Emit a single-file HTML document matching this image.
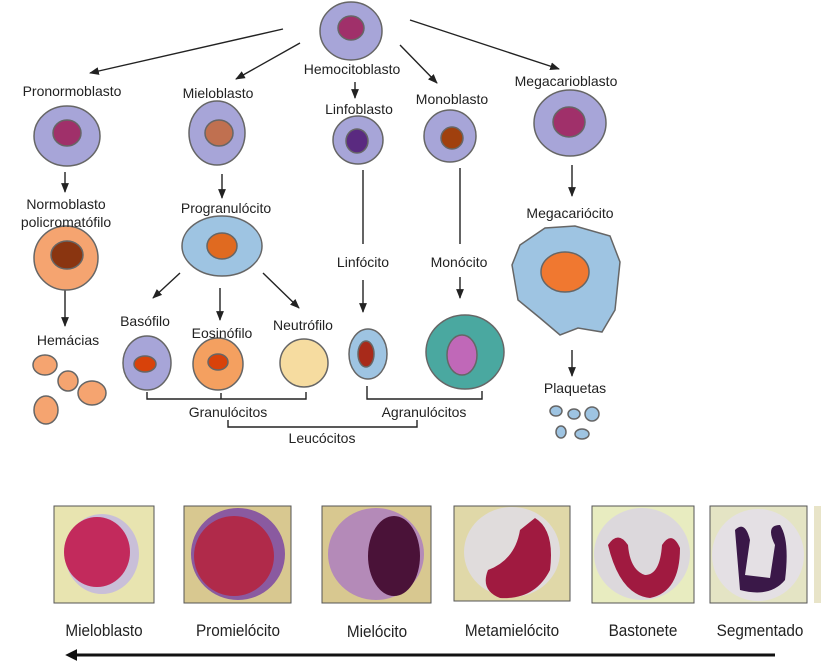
<!DOCTYPE html>
<html><head><meta charset="utf-8"><style>
html,body{margin:0;padding:0;background:#fff;}
svg{display:block;}
text{font-family:"Liberation Sans",sans-serif;font-size:14px;fill:#222;}
.b{font-family:"Liberation Sans",sans-serif;font-size:16px;fill:#222;transform-origin:0 0;}
</style></head><body>
<svg width="821" height="666" viewBox="0 0 821 666" xmlns="http://www.w3.org/2000/svg">
<defs>
<marker id="a" viewBox="0 0 10 10" refX="9" refY="5" markerWidth="7" markerHeight="7" orient="auto"><path d="M0,1 L10,5 L0,9 z" fill="#222"/></marker>
<marker id="big" viewBox="0 0 10 10" refX="1" refY="5" markerWidth="4" markerHeight="5" orient="auto-start-reverse"><path d="M0,0 L10,5 L0,10 z" fill="#111"/></marker>
</defs>
<g stroke="#222" stroke-width="1.4" fill="none">
<line x1="283" y1="29" x2="90" y2="73" marker-end="url(#a)"/>
<line x1="300" y1="43" x2="236" y2="79" marker-end="url(#a)"/>
<line x1="355" y1="82" x2="355" y2="98" marker-end="url(#a)"/>
<line x1="400" y1="45" x2="437" y2="83" marker-end="url(#a)"/>
<line x1="410" y1="20" x2="559" y2="69" marker-end="url(#a)"/>
<line x1="65" y1="172" x2="65" y2="192" marker-end="url(#a)"/>
<line x1="65" y1="290" x2="65" y2="326" marker-end="url(#a)"/>
<line x1="222" y1="174" x2="222" y2="198" marker-end="url(#a)"/>
<line x1="180" y1="273" x2="153" y2="298" marker-end="url(#a)"/>
<line x1="220" y1="288" x2="220" y2="320" marker-end="url(#a)"/>
<line x1="263" y1="273" x2="299" y2="308" marker-end="url(#a)"/>
<line x1="363" y1="170" x2="363" y2="244"/>
<line x1="363" y1="280" x2="363" y2="312" marker-end="url(#a)"/>
<line x1="460" y1="168" x2="460" y2="244"/>
<line x1="460" y1="277" x2="460" y2="298" marker-end="url(#a)"/>
<line x1="572" y1="165" x2="572" y2="196" marker-end="url(#a)"/>
<line x1="572" y1="350" x2="572" y2="376" marker-end="url(#a)"/>
<path d="M147,392 V399 H306 V392 M221,399 V393"/>
<path d="M367,386 V399 H482 V391"/>
<path d="M228,420 V427 H417 V420"/>
</g>
<!-- cells -->
<g stroke="#666" stroke-width="1.5">
<ellipse cx="351" cy="31" rx="31" ry="29" fill="#a7a5d8"/>
<ellipse cx="351" cy="28" rx="13" ry="12" fill="#a0306a"/>
<ellipse cx="67" cy="136" rx="33" ry="30" fill="#a7a5d8"/>
<ellipse cx="67" cy="133" rx="14" ry="13" fill="#a0306a"/>
<ellipse cx="217" cy="133" rx="28" ry="32" fill="#a7a5d8"/>
<ellipse cx="219" cy="133" rx="14" ry="13" fill="#c07050"/>
<ellipse cx="358" cy="140" rx="25" ry="24" fill="#a7a5d8"/>
<ellipse cx="357" cy="141" rx="11" ry="12" fill="#5a2a80"/>
<ellipse cx="450" cy="136" rx="26" ry="26" fill="#a7a5d8"/>
<ellipse cx="452" cy="138" rx="11" ry="11" fill="#a0400e"/>
<ellipse cx="570" cy="123" rx="36" ry="33" fill="#a7a5d8"/>
<ellipse cx="569" cy="122" rx="16" ry="15" fill="#a0306a"/>
<ellipse cx="66" cy="258" rx="32" ry="32" fill="#f5a470"/>
<ellipse cx="67" cy="255" rx="16" ry="14" fill="#8a3510"/>
<ellipse cx="222" cy="246" rx="40" ry="30" fill="#9ec4e2"/>
<ellipse cx="222" cy="246" rx="15" ry="13" fill="#e06a20"/>
<ellipse cx="147" cy="363" rx="24" ry="27" fill="#a7a5d8"/>
<ellipse cx="145" cy="364" rx="11" ry="8" fill="#d8420a"/>
<ellipse cx="218" cy="364" rx="25" ry="26" fill="#f4a060"/>
<ellipse cx="218" cy="362" rx="10" ry="8" fill="#d8420a"/>
<ellipse cx="304" cy="363" rx="24" ry="24" fill="#f6dca0"/>
<ellipse cx="368" cy="354" rx="19" ry="25" fill="#9ec4e2"/>
<ellipse cx="366" cy="354" rx="8" ry="13" fill="#a82a1a"/>
<ellipse cx="465" cy="352" rx="39" ry="37" fill="#4aa8a0"/>
<ellipse cx="462" cy="355" rx="15" ry="20" fill="#c068b8"/>
<path d="M520,245 L545,228 L575,226 L610,236 L620,262 L615,310 L602,332 L578,328 L560,335 L540,318 L518,300 L512,265 z" fill="#9ec4e2"/>
<ellipse cx="565" cy="272" rx="24" ry="20" fill="#f07830"/>
<ellipse cx="45" cy="365" rx="12" ry="10" fill="#f5a470"/>
<ellipse cx="68" cy="381" rx="10" ry="10" fill="#f5a470"/>
<ellipse cx="92" cy="393" rx="14" ry="12" fill="#f5a470"/>
<ellipse cx="46" cy="410" rx="12" ry="14" fill="#f5a470"/>
<ellipse cx="556" cy="411" rx="6" ry="5" fill="#9ec4e2"/>
<ellipse cx="574" cy="414" rx="6" ry="5" fill="#9ec4e2"/>
<ellipse cx="592" cy="414" rx="7" ry="7" fill="#9ec4e2"/>
<ellipse cx="561" cy="432" rx="5" ry="6" fill="#9ec4e2"/>
<ellipse cx="582" cy="434" rx="7" ry="5" fill="#9ec4e2"/>
</g>
<!-- labels -->
<g text-anchor="middle">
<text x="352" y="74">Hemocitoblasto</text>
<text x="72" y="96">Pronormoblasto</text>
<text x="218" y="98">Mieloblasto</text>
<text x="359" y="114">Linfoblasto</text>
<text x="452" y="104">Monoblasto</text>
<text x="566" y="86">Megacarioblasto</text>
<text x="66" y="209">Normoblasto</text>
<text x="66" y="227">policromatófilo</text>
<text x="68" y="345">Hemácias</text>
<text x="226" y="213">Progranulócito</text>
<text x="145" y="326">Basófilo</text>
<text x="222" y="338">Eosinófilo</text>
<text x="303" y="330">Neutrófilo</text>
<text x="363" y="267">Linfócito</text>
<text x="459" y="267">Monócito</text>
<text x="570" y="218">Megacariócito</text>
<text x="575" y="393">Plaquetas</text>
<text x="228" y="417">Granulócitos</text>
<text x="424" y="417">Agranulócitos</text>
<text x="322" y="443">Leucócitos</text>
</g>
<!-- photos -->
<g stroke="#555" stroke-width="1">
<rect x="54" y="506" width="100" height="97" fill="#e8e4b0"/>
<rect x="184" y="506" width="107" height="97" fill="#d8c890"/>
<rect x="322" y="506" width="109" height="97" fill="#d8c890"/>
<rect x="454" y="506" width="116" height="95" fill="#e0d8a8"/>
<rect x="592" y="506" width="102" height="97" fill="#e8ecc0"/>
<rect x="710" y="506" width="97" height="97" fill="#e4e4c4"/>
</g>
<ellipse cx="102" cy="554" rx="37" ry="40" fill="#c9bfd8"/>
<ellipse cx="97" cy="552" rx="33" ry="35" fill="#c22a5c"/>
<ellipse cx="238" cy="554" rx="47" ry="46" fill="#8a5aa0"/>
<ellipse cx="234" cy="556" rx="40" ry="40" fill="#b02a4a"/>
<ellipse cx="376" cy="554" rx="48" ry="46" fill="#b48ab8"/>
<ellipse cx="394" cy="556" rx="26" ry="40" fill="#4a1238"/>
<ellipse cx="512" cy="552" rx="48" ry="45" fill="#e0dcdc"/>
<path d="M535,518 Q555,530 550,570 Q535,600 500,598 Q480,590 488,570 Q515,560 520,530 z" fill="#a01a40"/>
<ellipse cx="642" cy="554" rx="48" ry="46" fill="#dcd8dc"/>
<path d="M608,545 Q620,595 650,598 Q680,592 680,548 Q672,530 662,545 Q660,575 645,575 Q630,570 628,545 Q618,530 608,545z" fill="#a01a40"/>
<ellipse cx="758" cy="555" rx="46" ry="46" fill="#e4e0e4"/>
<path d="M735,530 Q745,520 750,540 L745,575 L770,578 L775,545 Q765,525 780,525 Q790,540 785,580 Q770,598 740,590 z" fill="#3a1848"/>
<rect x="814" y="506" width="7" height="97" fill="#e8e4c8"/>
<g text-anchor="middle" font-size="17">
<text x="104" y="636" style="font-size:17px" transform="translate(104 636) scale(0.9 1) translate(-104 -636)">Mieloblasto</text>
<text x="238" y="636" style="font-size:17px" transform="translate(238 636) scale(0.9 1) translate(-238 -636)">Promielócito</text>
<text x="377" y="637" style="font-size:17px" transform="translate(377 637) scale(0.9 1) translate(-377 -637)">Mielócito</text>
<text x="512" y="636" style="font-size:17px" transform="translate(512 636) scale(0.9 1) translate(-512 -636)">Metamielócito</text>
<text x="643" y="636" style="font-size:17px" transform="translate(643 636) scale(0.9 1) translate(-643 -636)">Bastonete</text>
<text x="760" y="636" style="font-size:17px" transform="translate(760 636) scale(0.9 1) translate(-760 -636)">Segmentado</text>
</g>
<line x1="775" y1="655" x2="76" y2="655" stroke="#111" stroke-width="3" marker-end="url(#big)"/>
</svg>
</body></html>
